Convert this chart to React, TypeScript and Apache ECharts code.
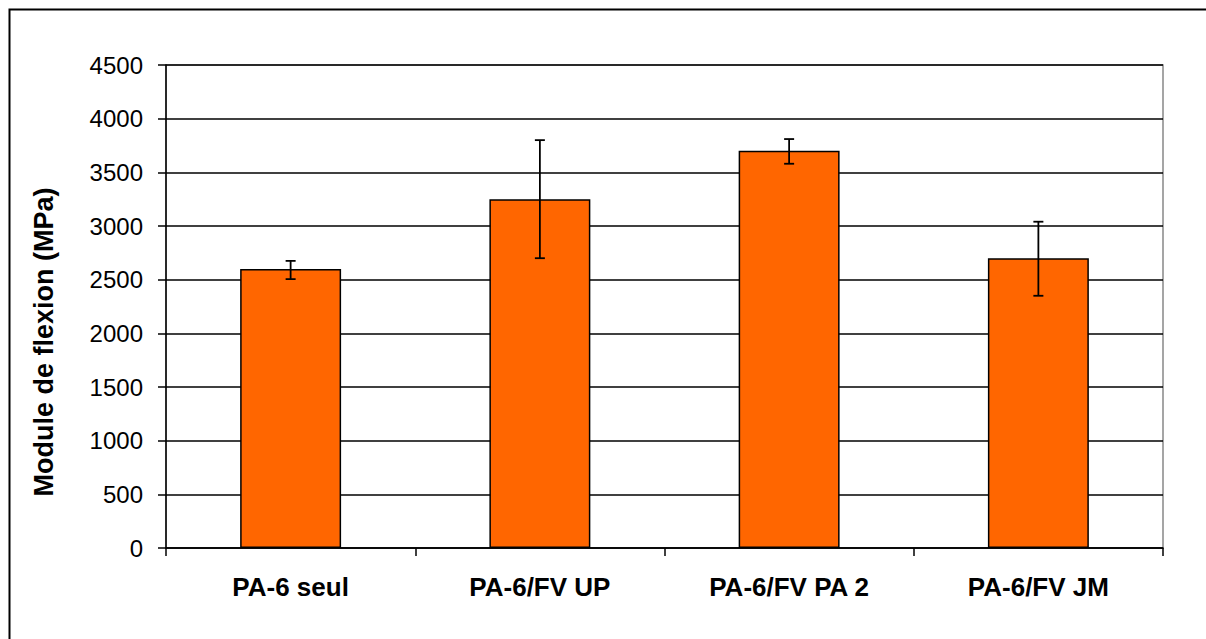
import React, { useEffect, useRef } from "react";
import * as echarts from "echarts";

const categories = ["PA-6 seul", "PA-6/FV UP", "PA-6/FV PA 2", "PA-6/FV JM"];
const values = [2600, 3250, 3700, 2700];
const errLow = [2505, 2700, 3580, 2350];
const errHigh = [2675, 3800, 3810, 3040];
const yAxisTitle = "Module de flexion (MPa)";

export default function App() {
  const ref = useRef<HTMLDivElement>(null);
  useEffect(() => {
    if (!ref.current) return;
    const chart = echarts.init(ref.current, null, { renderer: "svg" });
    const errData = categories.map((_, i) => [i, errLow[i], errHigh[i]]);
    chart.setOption({
      animation: false,
      backgroundColor: "#ffffff",
      grid: { left: 166, right: 43, top: 65, bottom: 91, show: true, borderColor: "#888888", borderWidth: 1.5 },
      xAxis: {
        type: "category",
        data: categories,
        axisLine: { lineStyle: { color: "#000", width: 1.5 } },
        axisTick: { show: true, length: 8, lineStyle: { color: "#000", width: 1.5 } },
        axisLabel: { color: "#000", fontFamily: "Liberation Sans", fontWeight: "bold", fontSize: 26, margin: 26 },
        splitLine: { show: false },
      },
      yAxis: {
        type: "value",
        min: 0,
        max: 4500,
        interval: 500,
        axisLine: { show: true, lineStyle: { color: "#000", width: 1.5 } },
        axisTick: { show: true, length: 8, lineStyle: { color: "#000", width: 1.5 } },
        axisLabel: {
          color: "#000",
          fontFamily: "Liberation Sans",
          fontSize: 24,
          margin: 23,
          formatter: (v: number) => String(v),
        },
        splitLine: { show: true, lineStyle: { color: "#000", width: 1.5 } },
      },
      graphic: [
        {
          type: "rect",
          shape: { x: 9.5, y: 9.5, width: 1220, height: 660 },
          style: { fill: "none", stroke: "#000", lineWidth: 2 },
          z: 100,
        },
        {
          type: "text",
          x: 44,
          y: 342,
          rotation: Math.PI / 2,
          style: {
            text: yAxisTitle,
            font: "bold 27px 'Liberation Sans'",
            fill: "#000",
            textAlign: "center",
            textVerticalAlign: "middle",
          },
        },
      ],
      series: [
        {
          type: "bar",
          data: values,
          barWidth: "40.5%",
          itemStyle: { color: "#FF6600", borderColor: "#000", borderWidth: 1.5 },
          z: 2,
        },
        {
          type: "custom",
          data: errData,
          z: 3,
          renderItem: (params: any, api: any) => {
            const idx = api.value(0);
            const lo = api.coord([idx, api.value(1)]);
            const hi = api.coord([idx, api.value(2)]);
            const w = 5;
            const style = { stroke: "#000", lineWidth: 1.8 };
            return {
              type: "group",
              children: [
                { type: "line", shape: { x1: hi[0], y1: hi[1], x2: lo[0], y2: lo[1] }, style },
                { type: "line", shape: { x1: hi[0] - w, y1: hi[1], x2: hi[0] + w, y2: hi[1] }, style },
                { type: "line", shape: { x1: lo[0] - w, y1: lo[1], x2: lo[0] + w, y2: lo[1] }, style },
              ],
            };
          },
        },
      ],
    });
    return () => chart.dispose();
  }, []);
  return <div ref={ref} style={{ position: "fixed", left: 0, top: 0, width: 1206, height: 639 }} />;
}
